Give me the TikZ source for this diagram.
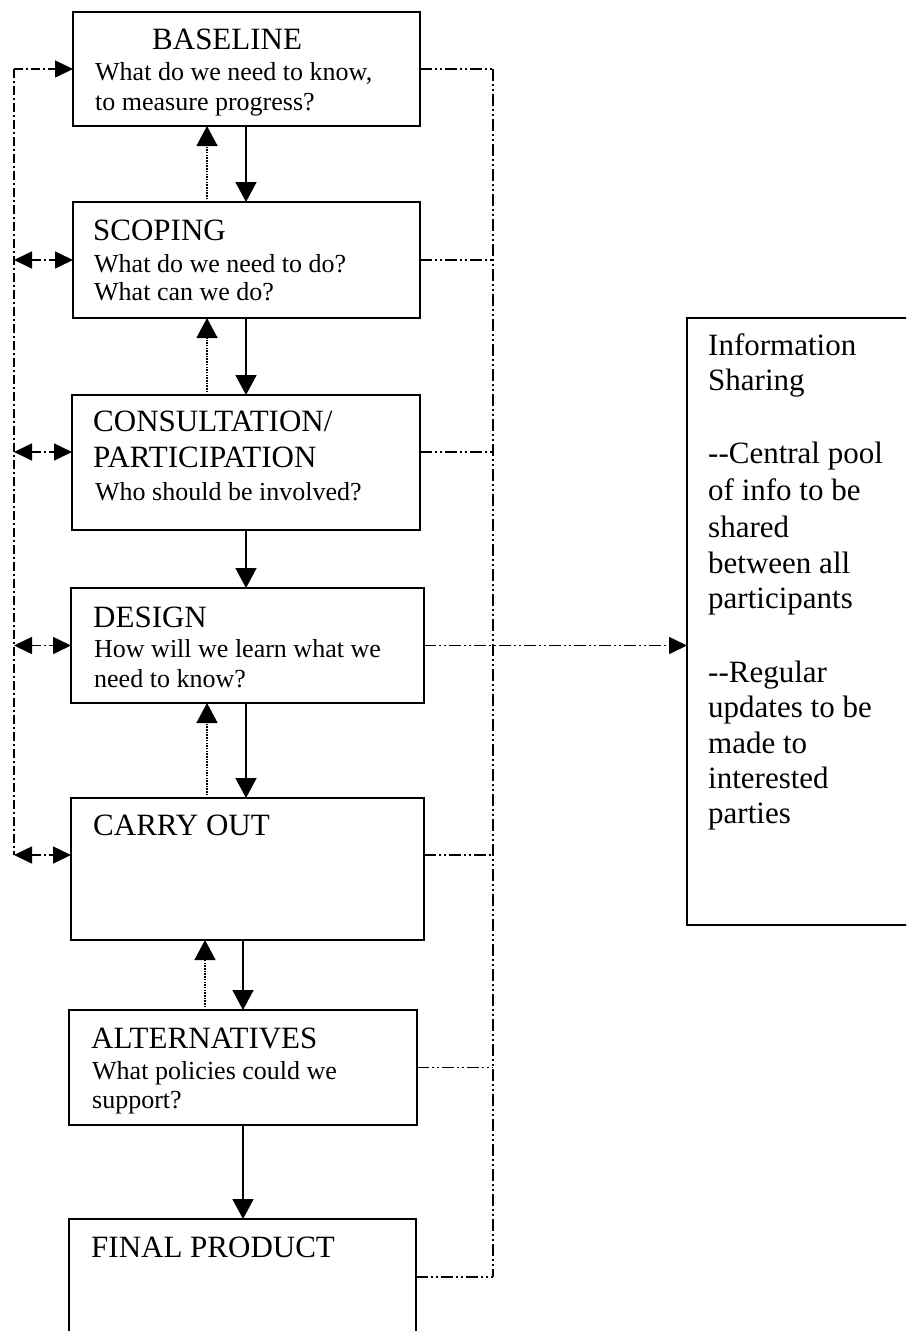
\documentclass[tikz,border=0pt]{standalone}
\usepackage{fontspec}
\setmainfont{Liberation Serif}
\usetikzlibrary{arrows.meta}
\tikzset{
  Tri/.tip={Triangle[length=18pt,width=17pt]},
  Trv/.tip={Triangle[length=20pt,width=21pt]},
  box/.style={draw, line width=1.8pt, anchor=north west, inner sep=0pt, outer sep=0pt},
  ttl/.style={anchor=base west, inner sep=0pt, font=\fontsize{31}{36}\selectfont},
  sub/.style={anchor=base west, inner sep=0pt, font=\fontsize{26}{30}\selectfont},
  down/.style={line width=1.7pt, -{Trv}},
  upd/.style={line width=1.6pt, dash pattern=on 1.5pt off 1.2pt, -{Trv}},
  ldash/.style={line width=1.6pt, dash pattern=on 9pt off 3pt on 2pt off 3pt},
  rdash/.style={line width=1.6pt, dash pattern=on 12pt off 3pt on 2pt off 3pt on 2pt off 3pt}
}
\begin{document}
\begin{tikzpicture}[x=1pt,y=-1pt]
\useasboundingbox (0,0) rectangle (906,1331);
\fill[white] (0,0) rectangle (906,1331);
\clip (0,0) rectangle (906,1331);

% boxes
\node[box, minimum width=347, minimum height=114] (bl) at (73,12) {};
\node[box, minimum width=347, minimum height=116] (sc) at (73,202) {};
\node[box, minimum width=348, minimum height=135] (co) at (72,395) {};
\node[box, minimum width=353, minimum height=115] (de) at (71,588) {};
\node[box, minimum width=353, minimum height=142] (ca) at (71,798) {};
\node[box, minimum width=348, minimum height=115] (al) at (69,1010) {};
\node[box, minimum width=347, minimum height=116] (fp) at (69,1219) {};
\node[box, minimum width=260, minimum height=607] (info) at (687,318) {};

% texts
\node[ttl] (t1) at (152,49) {BASELINE};
\node[sub] (t2) at (95,80) {What do we need to know,};
\node[sub] (t3) at (95,110) {to measure progress?};
\node[ttl] (t4) at (93,240) {SCOPING};
\node[sub] (t5) at (94,272) {What do we need to do?};
\node[sub] (t6) at (94,300) {What can we do?};
\node[ttl] (t7) at (93,431) {CONSULTATION/};
\node[ttl] (t8) at (93,467) {PARTICIPATION};
\node[sub] (t9) at (95,500) {Who should be involved?};
\node[ttl] (t10) at (93,627) {DESIGN};
\node[sub] (t11) at (94,657) {How will we learn what we};
\node[sub] (t12) at (94,687) {need to know?};
\node[ttl] (t13) at (93,835) {CARRY OUT};
\node[ttl] (t14) at (91,1048) {ALTERNATIVES};
\node[sub] (t15) at (92,1079) {What policies could we};
\node[sub] (t16) at (92,1108) {support?};
\node[ttl] (t17) at (91,1257) {FINAL PRODUCT};

\foreach \txt/\yy [count=\i] in {Information/355, Sharing/390, -{}-Central pool/463, of info to be/500, shared/537, between all/573, participants/608, -{}-Regular/682, updates to be/717, made to/753, interested/788, parties/823}
  \node[ttl] (inf\i) at (708,\yy) {\txt};

% helper coordinates
\coordinate (xs1) at (246,0);
\coordinate (xd1) at (207,0);
\coordinate (xs2) at (243,0);
\coordinate (xd2) at (205,0);
\coordinate (xL) at (14,0);
\coordinate (xR) at (493,0);
\coordinate (yco) at (0,452);
\coordinate (yca) at (0,855);
\coordinate (yfp) at (0,1277);

% vertical flow arrows
\draw[down] (bl.south -| xs1) -- (sc.north -| xs1);
\draw[upd] (sc.north -| xd1) -- (bl.south -| xd1);
\draw[down] (sc.south -| xs1) -- (co.north -| xs1);
\draw[upd] (co.north -| xd1) -- (sc.south -| xd1);
\draw[down] (co.south -| xs1) -- (de.north -| xs1);
\draw[down] (de.south -| xs1) -- (ca.north -| xs1);
\draw[upd] (ca.north -| xd1) -- (de.south -| xd1);
\draw[down] (ca.south -| xs2) -- (al.north -| xs2);
\draw[upd] (al.north -| xd2) -- (ca.south -| xd2);
\draw[down] (al.south -| xs2) -- (fp.north -| xs2);

% left feedback line
\draw[ldash] (xL |- bl.west) -- (xL |- yca);
\draw[ldash, -{Tri}] (xL |- bl.west) -- (bl.west);
\draw[ldash, {Tri}-{Tri}] (xL |- sc.west) -- (sc.west);
\draw[ldash, {Tri}-{Tri}] (xL |- yco) -- (co.west |- yco);
\draw[ldash, {Tri}-{Tri}] (xL |- de.west) -- (de.west);
\draw[ldash, {Tri}-{Tri}] (xL |- yca) -- (ca.west |- yca);

% right information line
\draw[rdash] (xR |- bl.east) -- (xR |- yfp);
\draw[rdash] (bl.east) -- (xR |- bl.east);
\draw[rdash] (sc.east) -- (xR |- sc.east);
\draw[rdash] (co.east |- yco) -- (xR |- yco);
\draw[rdash, -{Tri}] (de.east) -- (info.west |- de.east);
\draw[rdash] (ca.east |- yca) -- (xR |- yca);
\draw[rdash] (al.east) -- (xR |- al.east);
\draw[rdash] (fp.east |- yfp) -- (xR |- yfp);
\end{tikzpicture}
\end{document}
